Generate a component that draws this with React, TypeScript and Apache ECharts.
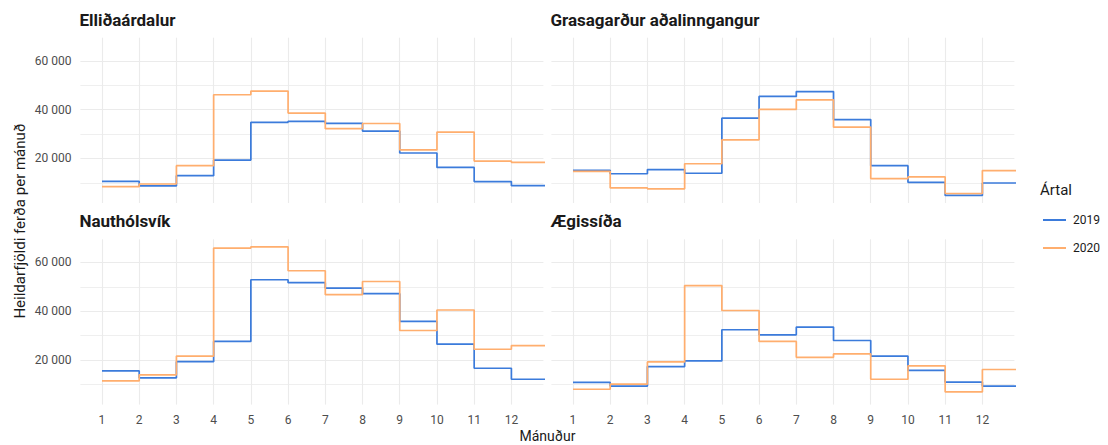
import React, { useEffect, useRef } from "react";
import * as echarts from "echarts";

const months = [1, 2, 3, 4, 5, 6, 7, 8, 9, 10, 11, 12];
const panelNames = ["Elliðaárdalur", "Grasagarður aðalinngangur", "Nauthólsvík", "Ægissíða"];
const years = ["2019", "2020"];

const ellidaardalur2019 = [10600, 8700, 12900, 19300, 34800, 35200, 34400, 31200, 22200, 16300, 10500, 8800];
const ellidaardalur2020 = [8400, 9500, 17000, 46100, 47600, 38600, 32200, 34300, 23500, 30800, 18900, 18400];
const grasagardur2019 = [15100, 13700, 15400, 13900, 36500, 45400, 47400, 35900, 17000, 10200, 4800, 9900];
const grasagardur2020 = [14700, 7900, 7500, 17800, 27600, 40100, 44000, 32800, 11700, 12400, 5600, 15000];
const nautholsvik2019 = [15500, 12700, 19300, 27600, 52900, 51700, 49500, 47200, 35800, 26500, 16600, 12100];
const nautholsvik2020 = [11400, 13900, 21600, 65900, 66400, 56600, 46800, 52200, 32100, 40500, 24400, 25900];
const aegisida2019 = [10800, 9300, 17300, 19600, 32400, 30300, 33500, 28000, 21600, 15700, 10900, 9300];
const aegisida2020 = [8000, 10100, 19200, 50500, 40300, 27600, 21100, 22500, 12100, 17600, 6900, 16100];

const yTickValues = [20000, 40000, 60000];
const yGridValues = [10000, 20000, 30000, 40000, 50000, 60000];
const yMajor = [20000, 40000, 60000];

const panelData = [
  [ellidaardalur2019, ellidaardalur2020],
  [grasagardur2019, grasagardur2020],
  [nautholsvik2019, nautholsvik2020],
  [aegisida2019, aegisida2020],
];

const colors = ["#3B7BDB", "#FFAE6E"];
const X_MIN = 0.42;
const X_MAX = 12.86;
const Y_MIN = 1700;
const Y_MAX = 69500;

const fmt = (v: number) => {
  const s = String(Math.round(v));
  return s.replace(/\B(?=(\d{3})+(?!\d))/g, " ");
};

export default function App() {
  const ref = useRef<HTMLDivElement>(null);
  useEffect(() => {
    if (!ref.current) return;
    const chart = echarts.init(ref.current, null, { renderer: "svg" });
    const lefts = [80.4, 551.4];
    const tops = [37.7, 239.3];
    const W = 463;
    const H = 165.3;
    const grids: any[] = [];
    const xAxes: any[] = [];
    const yAxes: any[] = [];
    const series: any[] = [];
    const titles: any[] = [];
    for (let p = 0; p < 4; p++) {
      const col = p % 2;
      const row = Math.floor(p / 2);
      grids.push({ left: lefts[col], top: tops[row], width: W, height: H, containLabel: false });
      xAxes.push({
        type: "value",
        gridIndex: p,
        min: X_MIN,
        max: X_MAX,
        axisLine: { show: false },
        axisTick: { show: false },
        splitLine: { show: false },
        axisLabel: {
          show: row === 1,
          customValues: months,
          formatter: (v: number) => String(v),
          color: "#4D4D4D",
          fontFamily: "Roboto",
          fontSize: 12,
          margin: 9,
        },
      });
      yAxes.push({
        type: "value",
        gridIndex: p,
        min: Y_MIN,
        max: Y_MAX,
        axisLine: { show: false },
        axisTick: { show: false },
        splitLine: { show: false },
        axisLabel: {
          show: col === 0,
          customValues: yTickValues,
          formatter: (v: number) => fmt(v),
          color: "#4D4D4D",
          fontFamily: "Roboto",
          fontSize: 12,
          margin: 9,
        },
      });
      titles.push({
        text: panelNames[p],
        left: lefts[col] - 1,
        top: row === 0 ? 11 : 212,
        textStyle: { fontFamily: "Roboto", fontWeight: "bold", fontSize: 17, color: "#1A1A1A" },
        padding: 0,
      });
      const gridLines: any[] = [];
      yGridValues.forEach((v) =>
        gridLines.push({
          yAxis: v,
          lineStyle: { color: "#EBEBEB", width: yMajor.includes(v) ? 1.1 : 0.8, type: "solid" },
        })
      );
      months.forEach((m) =>
        gridLines.push({ xAxis: m, lineStyle: { color: "#EBEBEB", width: 1.1, type: "solid" } })
      );
      series.push({
        type: "line",
        xAxisIndex: p,
        yAxisIndex: p,
        data: [],
        silent: true,
        z: 0,
        markLine: {
          silent: true,
          symbol: ["none", "none"],
          label: { show: false },
          z: 0,
          animation: false,
          data: gridLines,
        },
      });
      for (let s = 0; s < 2; s++) {
        const vals = panelData[p][s];
        const data = months.map((m, i) => [m, vals[i]]);
        data.push([13, vals[vals.length - 1]]);
        series.push({
          name: years[s],
          type: "line",
          xAxisIndex: p,
          yAxisIndex: p,
          step: "end",
          data,
          showSymbol: false,
          symbol: "none",
          clip: true,
          z: 3,
          lineStyle: { color: colors[s], width: 1.7 },
          itemStyle: { color: colors[s] },
        });
      }
    }
    chart.setOption({
      animation: false,
      backgroundColor: "#FFFFFF",
      title: titles,
      grid: grids,
      xAxis: xAxes,
      yAxis: yAxes,
      series,
      legend: {
        data: years,
        orient: "vertical",
        left: 1043,
        top: 213,
        padding: 0,
        icon: "rect",
        itemWidth: 23,
        itemHeight: 2,
        itemGap: 14,
        textStyle: {
          fontFamily: "Roboto",
          fontSize: 12,
          color: "#1A1A1A",
          padding: [0, 0, 0, 2],
          lineHeight: 14,
        },
        selectedMode: false,
      },
      graphic: [
        {
          type: "text",
          left: 1040,
          top: 182,
          style: { text: "Ártal", font: "15px Roboto", fill: "#1A1A1A" },
        },
        {
          type: "text",
          x: 20,
          y: 221,
          rotation: Math.PI / 2,
          style: {
            text: "Heildarfjöldi ferða per mánuð",
            font: "15px Roboto",
            fill: "#1A1A1A",
            align: "center",
            verticalAlign: "middle",
          },
        },
        {
          type: "text",
          x: 547.4,
          y: 436,
          style: { text: "Mánuður", font: "14px Roboto", fill: "#1A1A1A", align: "center", verticalAlign: "middle" },
        },
      ],
    });
    return () => chart.dispose();
  }, []);
  return (
    <div
      ref={ref}
      style={{ position: "fixed", left: 0, top: 0, width: 1108, height: 445, background: "#fff" }}
    />
  );
}
